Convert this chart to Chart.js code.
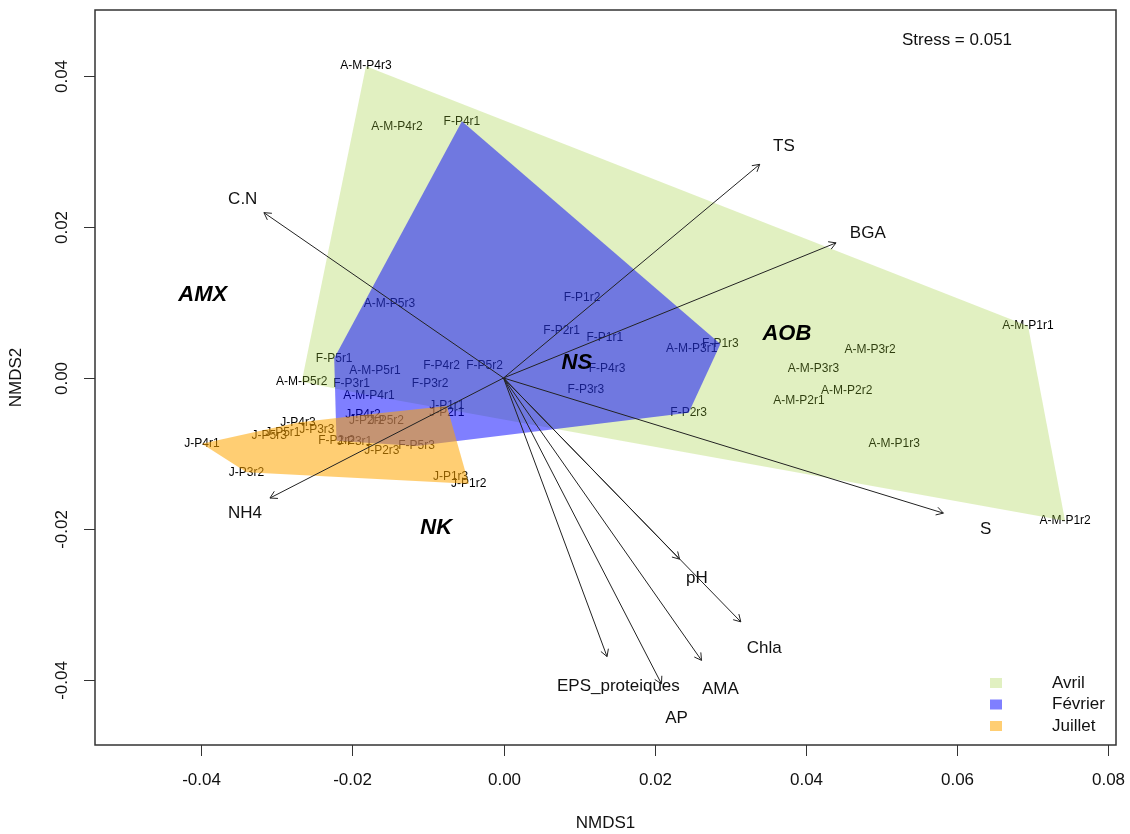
<!DOCTYPE html>
<html>
<head>
<meta charset="utf-8">
<script src="https://cdn.jsdelivr.net/npm/chart.js@4"></script>
<style>
  html, body { margin: 0; padding: 0; background: #fff; }
</style>
</head>
<body>
<canvas id="nmds" width="1130" height="834"></canvas>
<script>
// NMDS site scores
const avrilNames = ['A-M-P4r3', 'A-M-P4r2', 'A-M-P5r3', 'A-M-P5r1', 'A-M-P5r2', 'A-M-P4r1', 'A-M-P3r1',
  'A-M-P1r1', 'A-M-P3r2', 'A-M-P3r3', 'A-M-P2r2', 'A-M-P2r1', 'A-M-P1r3', 'A-M-P1r2'];
const avrilX = [-0.0182, -0.0141, -0.0151, -0.0170, -0.0267, -0.0178, 0.0249,
  0.0694, 0.0485, 0.0410, 0.0454, 0.0391, 0.0517, 0.0743];
const avrilY = [0.0413, 0.0333, 0.0098, 0.0010, -0.0005, -0.0023, 0.0039,
  0.0069, 0.0037, 0.0012, -0.0017, -0.0030, -0.0087, -0.0189];

const fevrierNames = ['F-P4r1', 'F-P1r2', 'F-P2r1', 'F-P1r1', 'F-P1r3', 'F-P4r3', 'F-P3r3', 'F-P2r3',
  'F-P5r1', 'F-P4r2', 'F-P5r2', 'F-P3r1', 'F-P3r2', 'F-P2r2', 'F-P5r3'];
const fevrierX = [-0.0055, 0.0104, 0.0077, 0.0134, 0.0287, 0.0137, 0.0109, 0.0245,
  -0.0224, -0.0082, -0.0025, -0.0201, -0.0097, -0.0221, -0.0115];
const fevrierY = [0.0340, 0.0107, 0.0063, 0.0054, 0.0045, 0.0012, -0.0016, -0.0046,
  0.0026, 0.0016, 0.0016, -0.0008, -0.0008, -0.0083, -0.0090];

const juilletNames = ['J-P4r1', 'J-P3r2', 'J-P1r3', 'J-P1r2', 'J-P4r3', 'J-P5r3', 'J-P5r1', 'J-P3r3',
  'J-P3r1', 'J-P2r3', 'J-P4r2', 'J-P2r2', 'J-P5r2', 'J-P1r1', 'J-P2r1'];
const juilletX = [-0.0399, -0.0340, -0.0070, -0.0046, -0.0272, -0.0310, -0.0292, -0.0247,
  -0.0197, -0.0161, -0.0186, -0.0181, -0.0155, -0.0075, -0.0075];
const juilletY = [-0.0087, -0.0125, -0.0131, -0.0140, -0.0059, -0.0077, -0.0072, -0.0068,
  -0.0085, -0.0096, -0.0049, -0.0057, -0.0056, -0.0037, -0.0046];

// envfit vectors: arrow tips and label positions
const envNames = ['TS', 'BGA', 'C.N', 'NH4', 'S', 'pH', 'Chla', 'AMA', 'EPS_proteiques', 'AP'];
const envX = [0.0339, 0.0440, -0.0317, -0.0309, 0.0582, 0.0233, 0.0314, 0.0262, 0.0137, 0.0209];
const envY = [0.0283, 0.0179, 0.0219, -0.0159, -0.0179, -0.0240, -0.0323, -0.0374, -0.0369, -0.0405];
const envLabelX = [0.0371, 0.0482, -0.0345, -0.0342, 0.0638, 0.0256, 0.0345, 0.0287, 0.0152, 0.0229];
const envLabelY = [0.0307, 0.0191, 0.0236, -0.0179, -0.0200, -0.0265, -0.0358, -0.0413, -0.0408, -0.0451];

// functional group labels
const groupNames = ['AMX', 'AOB', 'NS', 'NK'];
const groupX = [-0.0398, 0.0375, 0.0097, -0.0089];
const groupY = [0.0110, 0.0058, 0.0020, -0.0199];

const xTicks = [-0.04, -0.02, 0.00, 0.02, 0.04, 0.06, 0.08];
const yTicks = [-0.04, -0.02, 0.00, 0.02, 0.04];
const seasons = ['Avril', 'Février', 'Juillet'];
const seasonColors = ['rgba(154,205,50,0.3)', 'rgba(0,0,255,0.5)', 'rgba(255,165,0,0.55)'];
const stressText = 'Stress = 0.051';

const FONT = '"Liberation Sans", Arial, sans-serif';

function toPoints(xs, ys) {
  return xs.map((x, i) => ({ x: x, y: ys[i] }));
}

// monotone chain convex hull (like ordihull)
function convexHull(pts) {
  const p = pts.slice().sort((a, b) => a[0] - b[0] || a[1] - b[1]);
  const cross = (o, a, b) => (a[0] - o[0]) * (b[1] - o[1]) - (a[1] - o[1]) * (b[0] - o[0]);
  const lower = [], upper = [];
  p.forEach(pt => {
    while (lower.length >= 2 && cross(lower[lower.length - 2], lower[lower.length - 1], pt) <= 0) lower.pop();
    lower.push(pt);
  });
  for (let i = p.length - 1; i >= 0; i--) {
    const pt = p[i];
    while (upper.length >= 2 && cross(upper[upper.length - 2], upper[upper.length - 1], pt) <= 0) upper.pop();
    upper.push(pt);
  }
  upper.pop(); lower.pop();
  return lower.concat(upper);
}

function drawArrow(ctx, x0, y0, x1, y1) {
  const a = Math.atan2(y1 - y0, x1 - x0), h = 8, w = Math.PI / 6;
  ctx.beginPath();
  ctx.moveTo(x0, y0);
  ctx.lineTo(x1, y1);
  ctx.moveTo(x1 - h * Math.cos(a - w), y1 - h * Math.sin(a - w));
  ctx.lineTo(x1, y1);
  ctx.lineTo(x1 - h * Math.cos(a + w), y1 - h * Math.sin(a + w));
  ctx.stroke();
}

const ordiPlot = {
  id: 'ordiPlot',
  beforeDatasetsDraw(chart) {
    const ctx = chart.ctx;
    ctx.save();
    // site labels first, hulls are laid over them
    ctx.font = '12px ' + FONT;
    ctx.fillStyle = '#000';
    ctx.textAlign = 'center';
    ctx.textBaseline = 'middle';
    chart.data.datasets.forEach((ds, i) => {
      chart.getDatasetMeta(i).data.forEach((el, j) => {
        ctx.fillText(ds.names[j], el.x, el.y);
      });
    });
    chart.data.datasets.forEach((ds, i) => {
      const hull = convexHull(chart.getDatasetMeta(i).data.map(el => [el.x, el.y]));
      ctx.beginPath();
      hull.forEach((p, k) => k ? ctx.lineTo(p[0], p[1]) : ctx.moveTo(p[0], p[1]));
      ctx.closePath();
      ctx.fillStyle = ds.hullColor;
      ctx.fill();
    });
    ctx.restore();
  },
  afterDatasetsDraw(chart) {
    const ctx = chart.ctx, xs = chart.scales.x, ys = chart.scales.y;
    ctx.save();
    ctx.strokeStyle = '#222';
    ctx.lineWidth = 1;
    const ox = xs.getPixelForValue(0), oy = ys.getPixelForValue(0);
    envNames.forEach((n, i) => {
      drawArrow(ctx, ox, oy, xs.getPixelForValue(envX[i]), ys.getPixelForValue(envY[i]));
    });
    ctx.fillStyle = '#111';
    ctx.font = '17px ' + FONT;
    ctx.textAlign = 'center';
    ctx.textBaseline = 'middle';
    envNames.forEach((n, i) => {
      ctx.fillText(n, xs.getPixelForValue(envLabelX[i]), ys.getPixelForValue(envLabelY[i]));
    });
    ctx.fillStyle = '#000';
    ctx.font = 'italic bold 22px ' + FONT;
    groupNames.forEach((n, i) => {
      ctx.fillText(n, xs.getPixelForValue(groupX[i]), ys.getPixelForValue(groupY[i]));
    });
    ctx.restore();
  },
  afterDraw(chart) {
    const ctx = chart.ctx, xs = chart.scales.x, ys = chart.scales.y, area = chart.chartArea;
    ctx.save();
    // box
    ctx.strokeStyle = '#333';
    ctx.lineWidth = 1.5;
    ctx.strokeRect(area.left, area.top, area.right - area.left, area.bottom - area.top);
    ctx.lineWidth = 1;
    ctx.fillStyle = '#111';
    ctx.font = '17px ' + FONT;
    ctx.textAlign = 'center';
    ctx.textBaseline = 'middle';
    // x axis
    xTicks.forEach(v => {
      const px = Math.round(xs.getPixelForValue(v)) + 0.5;
      ctx.beginPath();
      ctx.moveTo(px, area.bottom);
      ctx.lineTo(px, area.bottom + 11);
      ctx.stroke();
      ctx.fillText(v.toFixed(2), px, area.bottom + 35);
    });
    // y axis, labels parallel to the axis
    yTicks.forEach(v => {
      const py = Math.round(ys.getPixelForValue(v)) + 0.5;
      ctx.beginPath();
      ctx.moveTo(area.left, py);
      ctx.lineTo(area.left - 11, py);
      ctx.stroke();
      ctx.save();
      ctx.translate(area.left - 33, py);
      ctx.rotate(-Math.PI / 2);
      ctx.fillText(v.toFixed(2), 0, 0);
      ctx.restore();
    });
    ctx.fillText('NMDS1', (area.left + area.right) / 2, area.bottom + 78);
    ctx.save();
    ctx.translate(16, (area.top + area.bottom) / 2);
    ctx.rotate(-Math.PI / 2);
    ctx.fillText('NMDS2', 0, 0);
    ctx.restore();
    // stress
    ctx.fillText(stressText, area.right - 159, area.top + 30);
    // legend
    ctx.textAlign = 'left';
    seasons.forEach((s, i) => {
      const cy = area.bottom - 62 + i * 21.5;
      ctx.fillStyle = seasonColors[i];
      ctx.fillRect(area.right - 126, cy - 5, 12, 10);
      ctx.fillStyle = '#111';
      ctx.fillText(s, area.right - 64, cy);
    });
    ctx.restore();
  }
};

const ctx = document.getElementById('nmds').getContext('2d');
new Chart(ctx, {
  type: 'scatter',
  data: {
    datasets: [
      { label: seasons[0], names: avrilNames, hullColor: seasonColors[0], data: toPoints(avrilX, avrilY), pointRadius: 0 },
      { label: seasons[1], names: fevrierNames, hullColor: seasonColors[1], data: toPoints(fevrierX, fevrierY), pointRadius: 0 },
      { label: seasons[2], names: juilletNames, hullColor: seasonColors[2], data: toPoints(juilletX, juilletY), pointRadius: 0 }
    ]
  },
  options: {
    responsive: false,
    animation: false,
    devicePixelRatio: 1,
    layout: { padding: { left: 95, right: 14, top: 10, bottom: 89 } },
    scales: {
      x: { type: 'linear', min: -0.05405, max: 0.08104, display: false },
      y: { type: 'linear', min: -0.04861, max: 0.04874, display: false }
    },
    plugins: {
      legend: { display: false },
      tooltip: { enabled: false }
    }
  },
  plugins: [ordiPlot]
});
</script>
</body>
</html>
